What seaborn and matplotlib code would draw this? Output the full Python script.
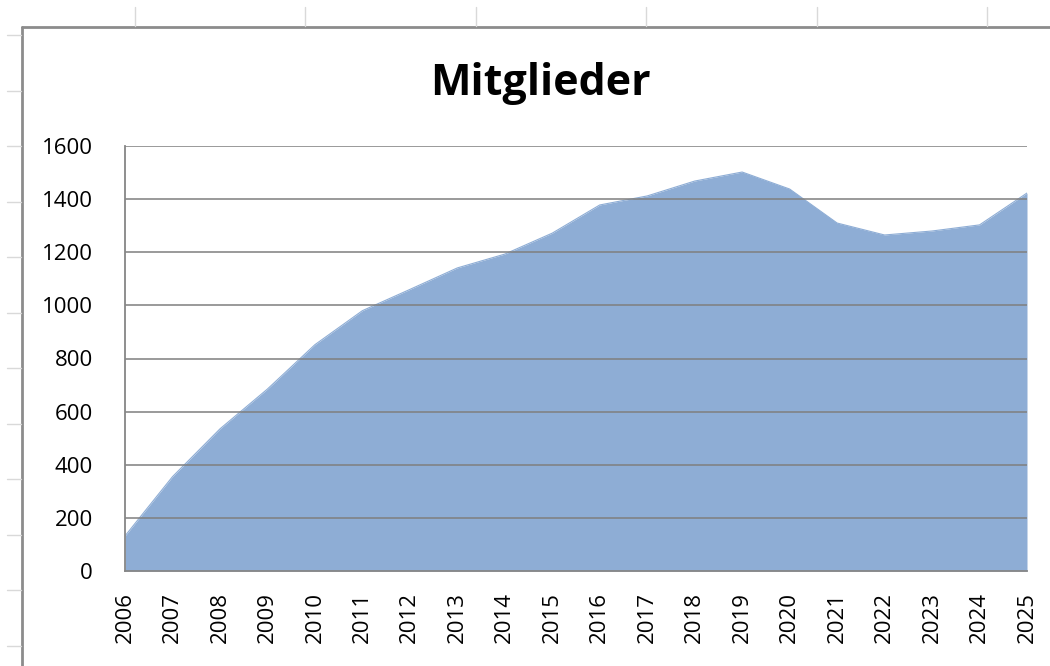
import matplotlib
matplotlib.use("Agg")
import matplotlib.pyplot as plt
import seaborn as sns
import pandas as pd
from matplotlib.lines import Line2D

years = list(range(2006, 2026))
members = [132, 355, 535, 685, 852, 980, 1060, 1141, 1193, 1272,
           1378, 1412, 1468, 1502, 1438, 1310, 1265, 1280, 1303, 1423]
y_ticks = [0, 200, 400, 600, 800, 1000, 1200, 1400, 1600]

df = pd.DataFrame({"Jahr": years, "Mitglieder": members})

sns.set_style("white")
plt.rcParams['font.family'] = ['Open Sans', 'DejaVu Sans']

W, H = 1050, 666
fig = plt.figure(figsize=(W / 100, H / 100), dpi=100)
ax = fig.add_axes([125 / W, 1 - 571 / H, (1027 - 125) / W, (571 - 146) / H])

fill_col = "#8eadd5"
sns.lineplot(data=df, x="Jahr", y="Mitglieder", ax=ax, color=fill_col, linewidth=0.8)
ax.fill_between(df["Jahr"], df["Mitglieder"], 0, color=fill_col, linewidth=0, zorder=1)

ax.set_xlim(years[0], years[-1])
ax.set_ylim(0, 1600)
ax.set_xticks(years)
ax.set_xticklabels([str(y) for y in years], rotation=90, fontsize=16)
ax.set_yticks(y_ticks)
ax.set_yticklabels([str(v) for v in y_ticks], fontsize=16)
ax.set_xlabel("")
ax.set_ylabel("")

# gridlines drawn over the fill, Excel style
for v in y_ticks[1:]:
    ax.axhline(v, color="#7f7f7f", linewidth=1.3, alpha=0.85, zorder=3)

for s in ["top", "right"]:
    ax.spines[s].set_visible(False)
for s in ["left", "bottom"]:
    ax.spines[s].set_color("#868686")
    ax.spines[s].set_linewidth(1.3)
    ax.spines[s].set_zorder(4)
ax.tick_params(axis="both", which="both", width=1.3, color="#868686",
               direction="out", labelcolor="#000000")
ax.tick_params(axis="y", length=9, pad=14)
ax.tick_params(axis="x", length=8, pad=7)

fig.text(540 / W, 1 - 95 / H, "Mitglieder", ha="center", va="baseline",
         fontsize=31, fontweight="bold", color="#000000")

# chart frame and spreadsheet artefacts
fig.add_artist(Line2D([22 / W, 22 / W], [0, 1 - 27 / H], color="#8c8c8c", linewidth=2))
fig.add_artist(Line2D([22 / W, 1], [1 - 27 / H, 1 - 27 / H], color="#8c8c8c", linewidth=2))
for x in [135, 305, 476, 646, 817, 987]:
    fig.add_artist(Line2D([x / W, x / W], [1 - 7 / H, 1 - 26 / H], color="#d9d9d9", linewidth=1))
for i in range(12):
    y = 35 + i * 55.5
    fig.add_artist(Line2D([7 / W, 21 / W], [1 - y / H, 1 - y / H], color="#d9d9d9", linewidth=1))

fig.savefig("out.png", dpi=100)
